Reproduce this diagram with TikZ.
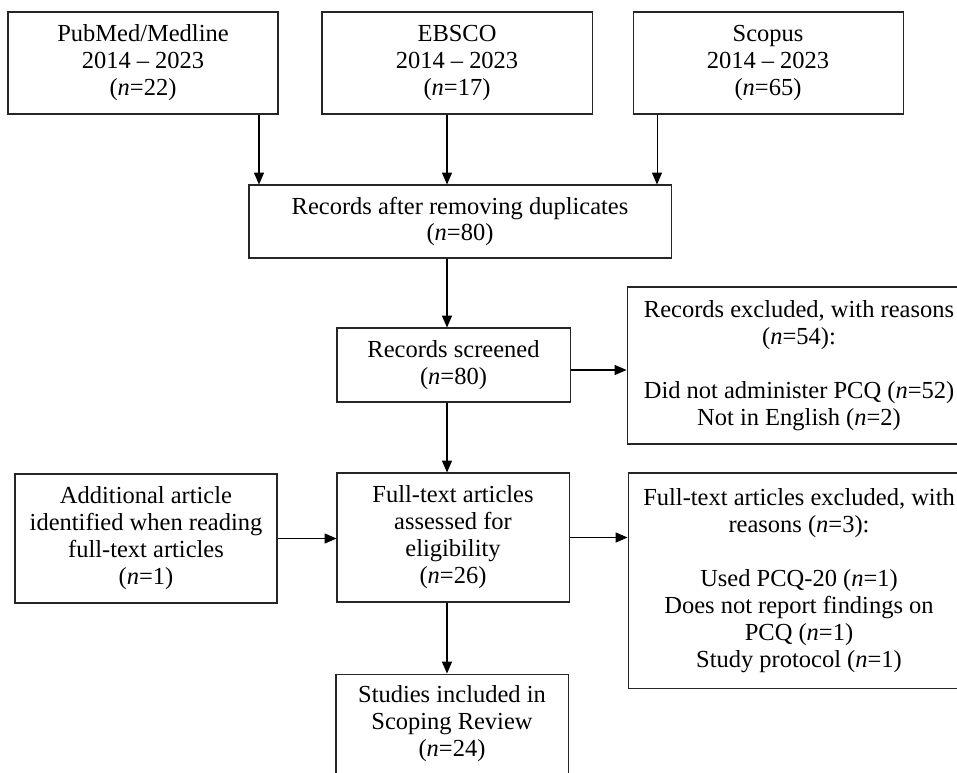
\documentclass[tikz,border=0pt]{standalone}
\usepackage{fontspec}
\setmainfont{Liberation Serif}
\usetikzlibrary{arrows.meta}

\begin{document}
\begin{tikzpicture}[x=0.49pt, y=-0.49pt,
	box/.style = {draw=black!85,
		line width=0.5pt,
		align=center,
		inner sep=0pt,
		font=\fontsize{12pt}{13.2pt}\selectfont},
	size/.style 2 args = {minimum width=#1*0.49pt,
		minimum height=#2*0.49pt},
	arrow/.style = {line width=0.5pt,
		-{Triangle[length=5.8pt,width=4.9pt]}}]
	
	\useasboundingbox (0,0) rectangle (957,772);
	
	% Databases
	\node[box,size={270}{102}] (pubmed) at (143,63) {PubMed/Medline\\2014 -- 2023\\(\textit{n}=22)};
	\node[box,size={270}{102}] (ebsco) at (457,63) {EBSCO\\2014 -- 2023\\(\textit{n}=17)};
	\node[box,size={270}{102}] (scopus) at (768,63) {Scopus\\2014 -- 2023\\(\textit{n}=65)};
	
	% Duplicates
	\node[box,size={422}{73}] (dup) at (460,221.5) {Records after removing duplicates\\(\textit{n}=80)};
	
	% Screening
	\node[box,size={233}{74}] (screened) at (453.5,365) {Records screened\\(\textit{n}=80)};
	\node[box,size={344}{157}] (recexcl) at (799,365.5) {Records excluded, with reasons\\(\textit{n}=54):\\[13.2pt]
		Did not administer PCQ (\textit{n}=52)\\Not in English (\textit{n}=2)};
	
	% Eligibility
	\node[box,size={262}{129}] (additional) at (146,538.5) {Additional article\\identified when reading\\full-text articles\\(\textit{n}=1)};
	\node[box,size={232}{129}] (assessed) at (453,537.5) {Full-text articles\\assessed for\\eligibility\\(\textit{n}=26)};
	\node[box,size={342}{215}] (ftexcl) at (799,580.5) {Full-text articles excluded, with\\reasons (\textit{n}=3):\\[13.2pt]
		Used PCQ-20 (\textit{n}=1)\\Does not report findings on\\PCQ (\textit{n}=1)\\Study protocol (\textit{n}=1)};
	
	% Included
	\node[box,size={232}{99}] (studies) at (452,723.5) {Studies included in\\Scoping Review\\(\textit{n}=24)};
	
	% Arrow positions
	\coordinate (xa) at (259,0);
	\coordinate (xb) at (447,0);
	\coordinate (xc) at (657,0);
	\coordinate (ya) at (0,370);
	
	% Arrows
	\draw[arrow] (pubmed.south -| xa) -- (dup.north -| xa);
	\draw[arrow] (ebsco.south -| xb) -- (dup.north -| xb);
	\draw[arrow] (scopus.south -| xc) -- (dup.north -| xc);
	\draw[arrow] (dup.south -| xb) -- (screened.north -| xb);
	\draw[arrow] (screened.east |- ya) -- (recexcl.west |- ya);
	\draw[arrow] (screened.south -| xb) -- (assessed.north -| xb);
	\draw[arrow] (additional.east) -- (additional.east -| assessed.west);
	\draw[arrow] (assessed.east) -- (assessed.east -| ftexcl.west);
	\draw[arrow] (assessed.south -| xb) -- (studies.north -| xb);
	
\end{tikzpicture}
\end{document}
